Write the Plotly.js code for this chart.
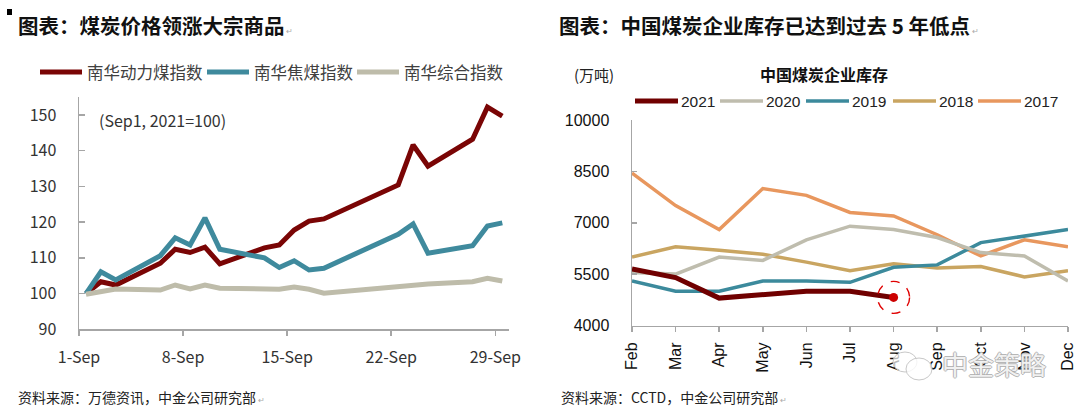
<!DOCTYPE html>
<html><head><meta charset="utf-8">
<script src="https://cdn.plot.ly/plotly-3.0.1.min.js"></script>
<style>html,body{margin:0;padding:0;background:#fff}#chart{width:1080px;height:411px}</style>
</head><body><div id="chart"></div>
<script>
// ---------- Left chart data (Nanhua indices, Sep 2021, Sep1=100) ----------
const sepDays = [1,2,3,6,7,8,9,10,13,14,15,16,17,22,23,24,27,28,29];
const thermalCoal = [100,103.3,102.4,108.5,112.4,111.5,113.0,108.3,112.8,113.6,117.8,120.3,120.9,130.4,141.6,135.7,143.2,152.2,149.7];
const cokingCoal  = [100,106.1,103.8,110.6,115.6,113.6,121.2,112.4,110.0,107.3,109.2,106.6,107.1,116.6,119.5,111.3,113.4,118.9,119.8];
const composite   = [99.8,100.5,101.3,101.0,102.4,101.3,102.4,101.5,101.5,101.2,101.8,101.2,100.1,101.8,102.4,102.7,103.3,104.3,103.5];
const leftNames = ['南华动力煤指数','南华焦煤指数','南华综合指数'];
const leftTickDays = [1,8,15,22,29];
const leftTickText = ['1-Sep','8-Sep','15-Sep','22-Sep','29-Sep'];
const leftYTicks = [90,100,110,120,130,140,150];

// ---------- Right chart data (coal enterprise inventory, 万吨) ----------
const months = ['Feb','Mar','Apr','May','Jun','Jul','Aug','Sep','Oct','Nov','Dec'];
const stock2021 = [5650,5400,4800,4900,5000,5000,4820];
const stock2020 = [5550,5500,6000,5900,6500,6900,6800,6570,6130,6030,5300];
const stock2019 = [5300,5000,5000,5300,5300,5260,5700,5770,6420,6600,6800];
const stock2018 = [6000,6300,6200,6080,5850,5600,5800,5680,5720,5420,5600];
const stock2017 = [8450,7500,6800,8000,7800,7300,7200,6650,6030,6500,6300];
const rightNames = ['2021','2020','2019','2018','2017'];
const rightYTicks = [4000,5500,7000,8500,10000];

const CJK = '"Noto Sans CJK SC", "Noto Sans", sans-serif';
const LAT = '"Liberation Sans", Arial, sans-serif';
const leftColors = ['#7A0505','#3F8A9D','#BEBCAA'];
const rightColors = ['#700000','#BFBDAE','#3C8A9C','#C9A561','#E8975E'];
const rightWidths = [5,3.5,3.5,3.5,3.5];

const traces = [];
[thermalCoal, cokingCoal, composite].forEach((ys,i)=>{
  traces.push({type:'scatter', mode:'lines', x:sepDays, y:ys, name:leftNames[i],
    line:{color:leftColors[i], width:5}, xaxis:'x', yaxis:'y', showlegend:false, hoverinfo:'skip'});
});
const rightSeries = [stock2021, stock2020, stock2019, stock2018, stock2017];
[4,3,2,1,0].forEach(i=>{
  traces.push({type:'scatter', mode:'lines', x:months.slice(0, rightSeries[i].length), y:rightSeries[i],
    name:rightNames[i], line:{color:rightColors[i], width:rightWidths[i]},
    xaxis:'x2', yaxis:'y2', showlegend:false, hoverinfo:'skip'});
});
const lastIdx = stock2021.length-1;
traces.push({type:'scatter', mode:'markers', x:[months[lastIdx]], y:[stock2021[lastIdx]],
  marker:{color:'#CC0000', size:9}, showlegend:false, xaxis:'x2', yaxis:'y2', hoverinfo:'skip'});

const W = 1080, H = 411;
const px = v => v/W, py = v => (H-v)/H;
const axisCol = '#A6A6A6';

const shapes = [
  {type:'rect', xref:'paper', yref:'paper', x0:px(7), x1:px(12), y0:py(15), y1:py(9), fillcolor:'#000', line:{width:0}},
  {type:'circle', xref:'x2', yref:'y2', xsizemode:'pixel', ysizemode:'pixel',
    xanchor:months[lastIdx], yanchor:stock2021[lastIdx], x0:-16, x1:16, y0:-16, y1:16,
    line:{color:'#E00000', width:1.4, dash:'dash'}},
  {type:'circle', xref:'paper', yref:'paper', x0:px(893), x1:px(917), y0:py(372), y1:py(352),
    line:{color:'#C8C8C8', width:1}, fillcolor:'rgba(255,255,255,0.7)'},
  {type:'circle', xref:'paper', yref:'paper', x0:px(906), x1:px(932), y0:py(380), y1:py(358),
    line:{color:'#C8C8C8', width:1}, fillcolor:'rgba(255,255,255,0.8)'}
];
const annotations = [
  {x:px(16), y:py(25), xanchor:'left', text:'<b>图表：煤炭价格领涨大宗商品</b><span style="font-size:8px;color:#aaa"> ↵</span>', font:{family:CJK, size:20.5, color:'#111'}},
  {x:px(557), y:py(25), xanchor:'left', text:'<b>图表：中国煤炭企业库存已达到过去 5 年低点</b><span style="font-size:8px;color:#aaa"> ↵</span>', font:{family:CJK, size:20.5, color:'#111'}},
  {x:px(97), y:py(120), xanchor:'left', text:'(Sep1, 2021=100)', font:{family:CJK, size:16, color:'#333'}},
  {x:px(572), y:py(74), xanchor:'left', text:'(万吨)', font:{family:CJK, size:15, color:'#222'}},
  {x:px(824), y:py(74), xanchor:'center', text:'<b>中国煤炭企业库存</b>', font:{family:CJK, size:16, color:'#111'}},
  {x:px(16), y:py(397), xanchor:'left', text:'资料来源：万德资讯，中金公司研究部<span style="font-size:8px;color:#aaa"> ↵</span>', font:{family:CJK, size:14, color:'#222'}},
  {x:px(559), y:py(397), xanchor:'left', text:'资料来源：CCTD，中金公司研究部<span style="font-size:8px;color:#aaa"> ↵</span>', font:{family:CJK, size:14, color:'#222'}},
  {x:px(994), y:py(363), xanchor:'center', text:'中金策略',
    font:{family:CJK, size:26, color:'rgba(255,255,255,0.85)',
      shadow:'1px 0 0 #aaa, -1px 0 0 #aaa, 0 1px 0 #aaa, 0 -1px 0 #aaa'}}
];
// Legends (drawn as key lines + labels)
const leftKeyX = [40,207,357];
leftNames.forEach((n,i)=>{
  shapes.push({type:'line', xref:'paper', yref:'paper', x0:px(leftKeyX[i]), x1:px(leftKeyX[i]+42), y0:py(72), y1:py(72),
    line:{color:leftColors[i], width:5}});
  annotations.push({x:px(leftKeyX[i]+45), y:py(72), xanchor:'left', text:n, font:{family:CJK, size:16.5, color:'#404040'}});
});
const rightKeyX = [635,720,806,893,978];
rightNames.forEach((n,i)=>{
  shapes.push({type:'line', xref:'paper', yref:'paper', x0:px(rightKeyX[i]), x1:px(rightKeyX[i]+43), y0:py(101), y1:py(101),
    line:{color:rightColors[i], width:rightWidths[i]}});
  annotations.push({x:px(rightKeyX[i]+44), y:py(101), xanchor:'left', text:n, font:{family:LAT, size:15.5, color:'#222'}});
});
annotations.forEach(a=>{a.xref='paper'; a.yref='paper'; a.yanchor='middle'; a.showarrow=false;});

const layout = {
  width:W, height:H, autosize:false,
  margin:{l:0,r:0,t:0,b:0},
  paper_bgcolor:'#fff', plot_bgcolor:'#fff',
  font:{family:CJK, color:'#333'},
  showlegend:false,
  xaxis:{domain:[px(79), px(509)], range:[0.529, 29.45], showgrid:false, zeroline:false,
    showline:true, linecolor:axisCol, linewidth:1.5,
    tickmode:'array', tickvals:leftTickDays.map(d=>d-0.47), ticktext:leftTickText,
    ticks:'outside', ticklen:5, tickcolor:axisCol, tickwidth:1.5, ticklabelstandoff:8,
    tickfont:{family:CJK, size:16, color:'#333'}},
  yaxis:{domain:[py(329.3), py(97.1)], range:[90,155], showgrid:false, zeroline:false,
    showline:true, linecolor:axisCol, linewidth:1.5,
    tickmode:'array', tickvals:leftYTicks, ticktext:leftYTicks.map(String),
    ticks:'inside', ticklen:6, tickcolor:axisCol, tickwidth:1.5, ticklabelstandoff:18,
    tickfont:{family:CJK, size:16, color:'#333'}},
  xaxis2:{domain:[px(632), px(1068)], type:'category', categoryorder:'array', categoryarray:months,
    range:[0, months.length-1], showgrid:false, zeroline:false,
    showline:true, linecolor:axisCol, linewidth:1.5, tickangle:-90,
    ticks:'outside', ticklen:5, tickcolor:axisCol, tickwidth:1.5, ticklabelstandoff:4,
    tickfont:{family:LAT, size:16, color:'#111'}, anchor:'y2'},
  yaxis2:{domain:[py(325.5), py(120)], range:[4000,10000], showgrid:false, zeroline:false,
    showline:true, linecolor:axisCol, linewidth:1.5, anchor:'x2',
    tickmode:'array', tickvals:rightYTicks, ticktext:rightYTicks.map(String),
    ticks:'inside', ticklen:5, tickcolor:axisCol, tickwidth:1.5, ticklabelstandoff:18,
    tickfont:{family:LAT, size:16, color:'#111'}},
  shapes:shapes,
  annotations:annotations
};
Plotly.newPlot('chart', traces, layout, {staticPlot:true, displayModeBar:false});
</script></body></html>
